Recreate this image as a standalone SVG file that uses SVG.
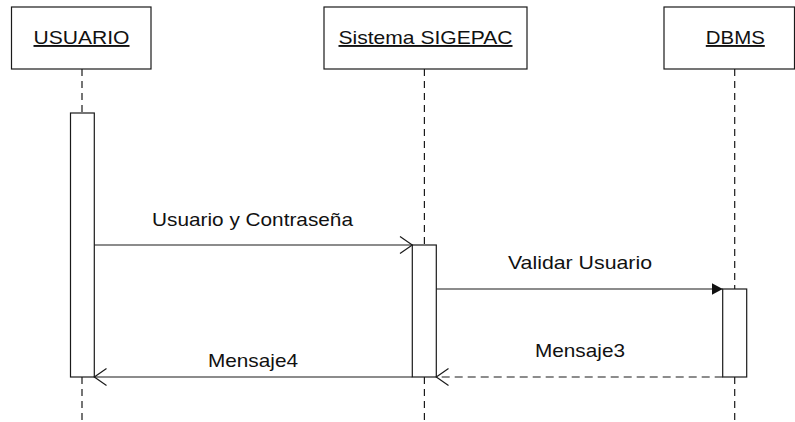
<svg xmlns="http://www.w3.org/2000/svg" width="795" height="422" viewBox="0 0 795 422">
  <style>
    .box { fill: #ffffff; stroke: #1a1a1a; stroke-width: 1.2; }
    .act { fill: #ffffff; stroke: #1a1a1a; stroke-width: 1.2; }
    .life { stroke: #1a1a1a; stroke-width: 1.2; stroke-dasharray: 7 5; fill: none; }
    .msg { stroke: #1a1a1a; stroke-width: 1.2; fill: none; }
    .ret { stroke: #1a1a1a; stroke-width: 1.2; fill: none; stroke-dasharray: 8 5; }
    .head { stroke: #1a1a1a; stroke-width: 1.2; fill: none; }
    .label { font-family: "Liberation Sans", Arial, sans-serif; font-size: 19px; fill: #111111; }
    .title { font-family: "Liberation Sans", Arial, sans-serif; font-size: 19px; fill: #111111; text-decoration: underline; }
  </style>
  <defs>
    <marker id="solidHead" markerWidth="12" markerHeight="12" refX="11" refY="6" orient="auto" markerUnits="userSpaceOnUse">
      <path d="M0,0 L11,6 L0,12 Z" fill="#111111"/>
    </marker>
  </defs>

  <!-- lifelines -->
  <g id="lifelines">
    <line class="life" x1="82" y1="69" x2="82" y2="113"/>
    <line class="life" x1="82" y1="377" x2="82" y2="422"/>
    <line class="life" x1="424.4" y1="69" x2="424.4" y2="245"/>
    <line class="life" x1="424.4" y1="377" x2="424.4" y2="422"/>
    <line class="life" x1="734.7" y1="69" x2="734.7" y2="289"/>
    <line class="life" x1="734.7" y1="377" x2="734.7" y2="422"/>
  </g>

  <g id="usuario">
    <rect class="box" x="11.5" y="7" width="139.5" height="62"/>
    <text class="title" x="81.5" y="44" text-anchor="middle" textLength="96" lengthAdjust="spacingAndGlyphs">USUARIO</text>
    <rect class="act" x="70.5" y="113" width="23.8" height="264"/>
  </g>

  <g id="sistema">
    <rect class="box" x="324" y="7" width="203" height="62"/>
    <text class="title" x="425.5" y="44" text-anchor="middle" textLength="174" lengthAdjust="spacingAndGlyphs">Sistema SIGEPAC</text>
    <rect class="act" x="412.3" y="245" width="24" height="132"/>
  </g>

  <g id="dbms">
    <rect class="box" x="664" y="7" width="130.5" height="62"/>
    <text class="title" x="735.3" y="44" text-anchor="middle" textLength="59" lengthAdjust="spacingAndGlyphs">DBMS</text>
    <rect class="act" x="722.7" y="289" width="24" height="88"/>
  </g>

  <!-- messages -->
  <g id="connectors">
    <line class="msg" x1="94.3" y1="245" x2="412.3" y2="245"/>
    <polyline class="head" points="400,236.5 412.3,245 400,253.5"/>
    <text class="label" x="152" y="225.5" textLength="201" lengthAdjust="spacingAndGlyphs">Usuario y Contraseña</text>

    <line class="msg" x1="436.3" y1="289" x2="722.7" y2="289" marker-end="url(#solidHead)"/>
    <text class="label" x="508" y="269" textLength="144" lengthAdjust="spacingAndGlyphs">Validar Usuario</text>

    <line class="ret" x1="722.7" y1="377" x2="436.3" y2="377"/>
    <polyline class="head" points="448.5,368.5 436.3,377 448.5,385.5"/>
    <text class="label" x="535" y="356.7" textLength="90" lengthAdjust="spacingAndGlyphs">Mensaje3</text>

    <line class="msg" x1="412.3" y1="377" x2="94.3" y2="377"/>
    <polyline class="head" points="106.5,368.5 94.3,377 106.5,385.5"/>
    <text class="label" x="208" y="366.7" textLength="90" lengthAdjust="spacingAndGlyphs">Mensaje4</text>
  </g>
</svg>
